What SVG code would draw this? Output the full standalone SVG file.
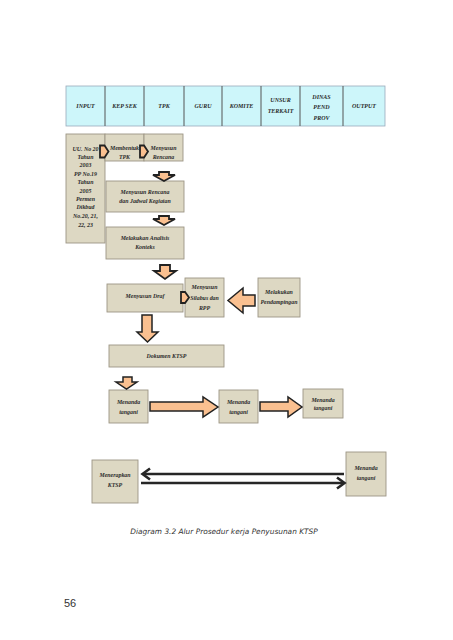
<svg xmlns="http://www.w3.org/2000/svg" width="453" height="640" viewBox="0 0 453 640">
<style>
.hd{fill:#cdf6fa;stroke:#9ab;stroke-width:0.8}
.dv{stroke:#555;stroke-width:1}
.bx{fill:#ddd8c3;stroke:#9c9685;stroke-width:0.9}
.ht{font-family:"Liberation Serif",serif;font-style:italic;font-weight:bold;font-size:6px;fill:#2b2b2b;text-anchor:middle}
.t{font-family:"Liberation Serif",serif;font-style:italic;font-weight:bold;font-size:5.9px;fill:#2b2b2b;text-anchor:middle}
.ar{fill:#fac090;stroke:#222;stroke-width:1.5;stroke-linejoin:miter}
.as{fill:#fac090;stroke:#222;stroke-width:1.8;stroke-linejoin:miter}
.ln{stroke:#262626;stroke-width:2.6;fill:none}
.hd2{stroke:#262626;stroke-width:2.6;fill:none;stroke-linejoin:miter}
.cap{font-family:"DejaVu Sans",sans-serif;font-style:italic;font-size:7.4px;fill:#333;text-anchor:middle}
.pg{font-family:"Liberation Sans",Arial,sans-serif;font-size:11px;fill:#333}
</style>
<rect width="453" height="640" fill="#fff"/>
<g id="header">
<rect class="hd" x="66" y="86" width="319" height="40"/>
<line class="dv" x1="105" y1="86" x2="105" y2="126"/>
<line class="dv" x1="144" y1="86" x2="144" y2="126"/>
<line class="dv" x1="184" y1="86" x2="184" y2="126"/>
<line class="dv" x1="222" y1="86" x2="222" y2="126"/>
<line class="dv" x1="261" y1="86" x2="261" y2="126"/>
<line class="dv" x1="300" y1="86" x2="300" y2="126"/>
<line class="dv" x1="343" y1="86" x2="343" y2="126"/>
<text class="ht" x="85.5" y="108">INPUT</text>
<text class="ht" x="124.5" y="108">KEP SEK</text>
<text class="ht" x="164" y="108">TPK</text>
<text class="ht" x="203" y="108">GURU</text>
<text class="ht" x="241.5" y="108">KOMITE</text>
<text class="ht" x="280.5" y="102">UNSUR</text>
<text class="ht" x="280.5" y="113">TERKAIT</text>
<text class="ht" x="321.5" y="99">DINAS</text>
<text class="ht" x="321.5" y="109">PEND</text>
<text class="ht" x="321.5" y="120">PROV</text>
<text class="ht" x="364" y="108">OUTPUT</text>
</g>
<g id="input">
<rect class="bx" x="66" y="134" width="39" height="109"/>
<text class="t" x="85.5" y="151">UU. No 20</text>
<text class="t" x="85.5" y="159">Tahun</text>
<text class="t" x="85.5" y="167">2003</text>
<text class="t" x="85.5" y="175.5">PP No.19</text>
<text class="t" x="85.5" y="184">Tahun</text>
<text class="t" x="85.5" y="192.5">2005</text>
<text class="t" x="85.5" y="200.5">Permen</text>
<text class="t" x="85.5" y="209">Dikbud</text>
<text class="t" x="85.5" y="218">No.20, 21,</text>
<text class="t" x="85.5" y="226.5">22, 23</text>
</g>
<g id="membentuk">
<rect class="bx" x="105" y="134" width="39" height="27"/>
<text class="t" x="124.5" y="150">Membentuk</text>
<text class="t" x="124.5" y="159">TPK</text>
</g>
<g id="menyusun-rencana">
<rect class="bx" x="144" y="134" width="39" height="27"/>
<text class="t" x="163.5" y="150">Menyusun</text>
<text class="t" x="163.5" y="159">Rencana</text>
</g>
<g id="rencana-jadwal">
<rect class="bx" x="106" y="181" width="78" height="31"/>
<text class="t" x="145" y="194">Menyusun Rencana</text>
<text class="t" x="145" y="203">dan Jadwal Kegiatan</text>
</g>
<g id="analisis">
<rect class="bx" x="106" y="227" width="78" height="32"/>
<text class="t" x="145" y="240">Melakukan Analisis</text>
<text class="t" x="145" y="249">Konteks</text>
</g>
<g id="draf">
<rect class="bx" x="107" y="284" width="76" height="28"/>
<text class="t" x="145" y="298">Menyusun Draf</text>
</g>
<g id="silabus">
<rect class="bx" x="185" y="278" width="39" height="39"/>
<text class="t" x="204.5" y="289">Menyusun</text>
<text class="t" x="204.5" y="300">Silabus dan</text>
<text class="t" x="204.5" y="310">RPP</text>
</g>
<g id="pendampingan">
<rect class="bx" x="258" y="278" width="42" height="39"/>
<text class="t" x="279" y="294">Melakukan</text>
<text class="t" x="279" y="304">Pendampingan</text>
</g>
<g id="dokumen">
<rect class="bx" x="109" y="345" width="115" height="22"/>
<text class="t" x="166.5" y="358">Dokumen KTSP</text>
</g>
<g id="menanda1">
<rect class="bx" x="109" y="390" width="39" height="33"/>
<text class="t" x="128.5" y="404">Menanda</text>
<text class="t" x="128.5" y="414">tangani</text>
</g>
<g id="menanda2">
<rect class="bx" x="219" y="390" width="39" height="33"/>
<text class="t" x="238.5" y="404">Menanda</text>
<text class="t" x="238.5" y="414">tangani</text>
</g>
<g id="menanda3">
<rect class="bx" x="303" y="389" width="40" height="29"/>
<text class="t" x="323" y="402">Menanda</text>
<text class="t" x="323" y="410">tangani</text>
</g>
<g id="menerapkan">
<rect class="bx" x="92" y="460" width="46" height="43"/>
<text class="t" x="115" y="477">Menerapkan</text>
<text class="t" x="115" y="487">KTSP</text>
</g>
<g id="menanda4">
<rect class="bx" x="346" y="452" width="40" height="44"/>
<text class="t" x="366" y="470">Menanda</text>
<text class="t" x="366" y="480">tangani</text>
</g>
<g id="connectors">
<path class="as" d="M100,145.5 H104.5 L108.5,151.5 L104.5,157.5 H100 Z"/>
<path class="as" d="M140,145.5 H144 L148,151.5 L144,157.5 H140 Z"/>
<path class="as" d="M181,292 H185 L189,297.5 L185,303 H181 Z"/>
<path class="as" d="M159,172 H169 V175 H175 L164,181 L153,175 H159 Z"/>
<path class="as" d="M159,216 H169 V219 H175 L164,225 L153,219 H159 Z"/>
<path class="as" d="M160,265 H170 V271 H176 L165,279 L154,271 H160 Z"/>
<path class="ar" d="M142,315 H152 V332 H158 L147.5,342 L137,332 H142 Z"/>
<path class="ar" d="M123,377 H132 V382 H137 L126.5,389 L116,382 H123 Z"/>
<path class="ar" d="M255,295 V306 H243 V313 L228,300.5 L243,288 V295 Z"/>
<path class="ar" d="M150,402 H203 V397 L218,407 L203,417 V411 H150 Z"/>
<path class="ar" d="M260,402 H288 V397 L302,407 L288,417 V411 H260 Z"/>
<line class="ln" x1="344" y1="474" x2="143" y2="474"/>
<path class="hd2" d="M150,468.5 L142.5,474 L150,479.5"/>
<line class="ln" x1="141" y1="483" x2="344" y2="483"/>
<path class="hd2" d="M337,477.5 L344.5,483 L337,488.5"/>
</g>
<text class="cap" x="224" y="534">Diagram 3.2 Alur Prosedur kerja Penyusunan KTSP</text>
<text class="pg" x="64" y="607">56</text>
</svg>
